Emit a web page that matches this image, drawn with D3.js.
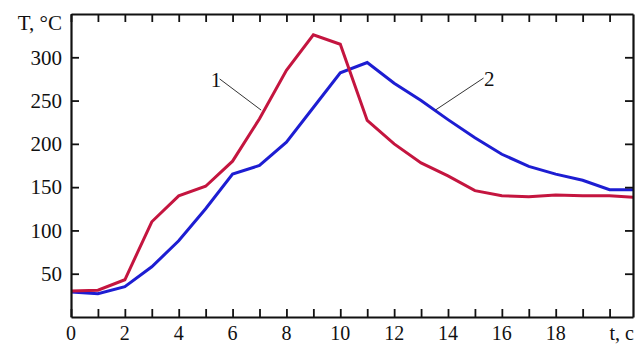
<!DOCTYPE html>
<html>
<head>
<meta charset="utf-8">
<script src="https://cdn.jsdelivr.net/npm/d3@7"></script>
<style>
	body { margin: 0; background: #fff; }
	text { font-family: "Liberation Serif", "Times New Roman", serif; fill: #111; }
</style>
</head>
<body>
<div id="wrapper"></div>
<script>
/////////////////////////////////////////////////
// data /////////////////////////////////////////
/////////////////////////////////////////////////

const times = [0, 1, 2, 3, 4, 5, 6, 7, 8, 9, 10, 11, 12, 13, 14, 15, 16, 17, 18, 19, 20, 21];
const curve1 = [30, 31, 43, 110, 140, 151, 180, 229, 285, 326, 315, 227, 200, 178, 163, 146, 140, 139, 141, 140, 140, 138];
const curve2 = [29, 27, 35, 58, 88, 125, 165, 175, 202, 242, 282, 294, 270, 250, 228, 207, 188, 174, 165, 158, 147, 147];

const xTicks = d3.range(0, 21);
const xLabels = ["0", "2", "4", "6", "8", "10", "12", "14", "16", "18", "t, c"];
const yTicks = [50, 100, 150, 200, 250, 300];
const yUnitLabel = "T, °C";

// label positions for the numbered curves: [text, leader start, leader end]
const curveLabels = [
	{ name: "1", text: [5.38, 266], from: [5.52, 275], to: [7.06, 239] },
	{ name: "2", text: [15.53, 267], from: [15.32, 276], to: [13.53, 239] }
];

/////////////////////////////////////////////////
// dimensions ///////////////////////////////////
/////////////////////////////////////////////////

let dimensions = {
	width: 638,
	height: 345,
	margin: { top: 14, right: 5, bottom: 28, left: 71 }
};
dimensions.boundedWidth = dimensions.width - dimensions.margin.left - dimensions.margin.right;
dimensions.boundedHeight = dimensions.height - dimensions.margin.top - dimensions.margin.bottom;

const svg = d3.select("#wrapper").append("svg")
	.attr("width", dimensions.width)
	.attr("height", dimensions.height);

const bounds = svg.append("g")
	.attr("transform", `translate(${dimensions.margin.left},${dimensions.margin.top})`);

/////////////////////////////////////////////////
// scales ///////////////////////////////////////
/////////////////////////////////////////////////

const xScale = d3.scaleLinear().domain([0, 20.87]).range([0, dimensions.boundedWidth]);
const yScale = d3.scaleLinear().domain([0, 350]).range([dimensions.boundedHeight, 0]);

/////////////////////////////////////////////////
// lines ////////////////////////////////////////
/////////////////////////////////////////////////

bounds.append("clipPath").attr("id", "clip")
	.append("rect")
	.attr("width", dimensions.boundedWidth)
	.attr("height", dimensions.boundedHeight);

const lineGen = d3.line()
	.x((d, i) => xScale(times[i]))
	.y((d) => yScale(d));

bounds.append("path")
	.attr("clip-path", "url(#clip)")
	.attr("d", lineGen(curve2))
	.attr("fill", "none")
	.attr("stroke", "#1d1dd2")
	.attr("stroke-width", 3);

bounds.append("path")
	.attr("clip-path", "url(#clip)")
	.attr("d", lineGen(curve1))
	.attr("fill", "none")
	.attr("stroke", "#c4153f")
	.attr("stroke-width", 3);

/////////////////////////////////////////////////
// axes /////////////////////////////////////////
/////////////////////////////////////////////////

const styleAxis = (g) => {
	g.select(".domain").attr("stroke", "#111").attr("stroke-width", 2.2);
	g.selectAll(".tick line").attr("stroke", "#111").attr("stroke-width", 1.8);
	g.selectAll("text").style("font-family", "Liberation Serif, serif").style("font-size", "21px").attr("fill", "#111");
};

bounds.append("g")
	.attr("transform", `translate(0,${dimensions.boundedHeight})`)
	.call(d3.axisBottom(xScale)
		.tickValues(xTicks)
		.tickSizeInner(-8)
		.tickSizeOuter(0)
		.tickFormat(() => ""))
	.call(styleAxis);

bounds.append("g")
	.call(d3.axisTop(xScale).tickValues(xTicks).tickSizeInner(-8).tickSizeOuter(0).tickFormat(() => ""))
	.call(styleAxis);

bounds.append("g")
	.call(d3.axisLeft(yScale)
		.tickValues(yTicks)
		.tickSizeInner(-8)
		.tickSizeOuter(0)
		.tickPadding(9))
	.call(styleAxis);

bounds.append("g")
	.attr("transform", `translate(${dimensions.boundedWidth},0)`)
	.call(d3.axisRight(yScale).tickValues(yTicks).tickSizeInner(-8).tickSizeOuter(0).tickFormat(() => ""))
	.call(styleAxis);

// x tick labels (every second tick), last one is the unit
xLabels.forEach((label, i) => {
	const last = i === xLabels.length - 1;
	bounds.append("text")
		.attr("x", last ? dimensions.boundedWidth + 1 : xScale(i * 2))
		.attr("y", dimensions.boundedHeight + 23)
		.attr("text-anchor", last ? "end" : "middle")
		.style("font-size", "20px")
		.text(label);
});

// y unit label
bounds.append("text")
	.attr("x", -9)
	.attr("y", 16)
	.attr("text-anchor", "end")
	.style("font-size", "21px")
	.text(yUnitLabel);

/////////////////////////////////////////////////
// curve labels /////////////////////////////////
/////////////////////////////////////////////////

curveLabels.forEach((c) => {
	bounds.append("line")
		.attr("x1", xScale(c.from[0]))
		.attr("y1", yScale(c.from[1]))
		.attr("x2", xScale(c.to[0]))
		.attr("y2", yScale(c.to[1]))
		.attr("stroke", "#333")
		.attr("stroke-width", 1);
	bounds.append("text")
		.attr("x", xScale(c.text[0]))
		.attr("y", yScale(c.text[1]))
		.attr("text-anchor", "middle")
		.style("font-size", "21px")
		.text(c.name);
});
</script>
</body>
</html>
